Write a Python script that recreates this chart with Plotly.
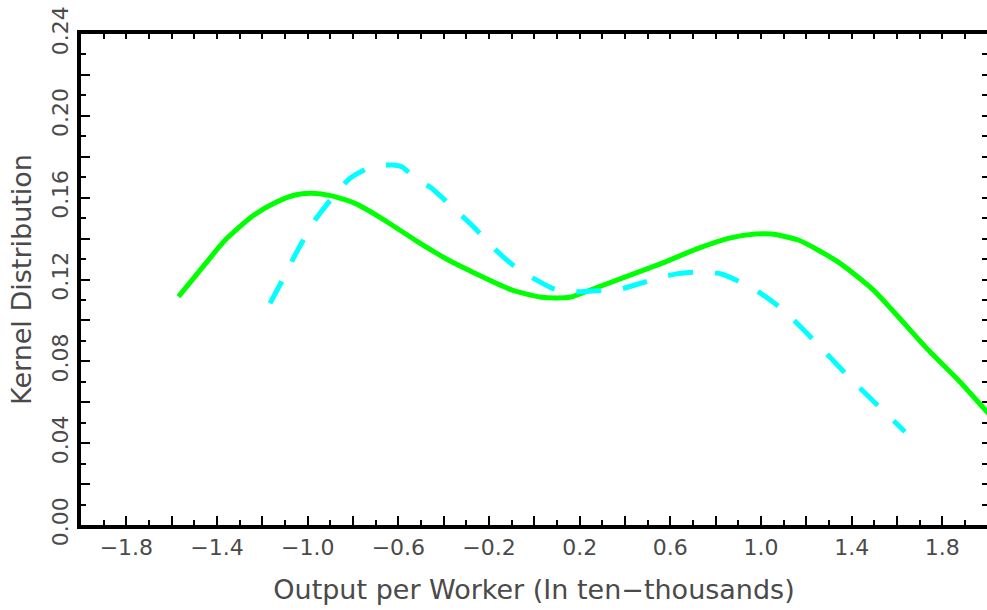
import plotly.graph_objects as go

# ---- data ----
green_x = [-1.570, -1.438, -1.364, -1.247, -1.144, -1.056, -0.982, -0.894, -0.791, -0.674,
           -0.526, -0.379, -0.291, -0.100, 0.032, 0.157, 0.238, 0.562, 0.723, 0.856,
           0.974, 1.047, 1.165, 1.341, 1.495, 1.738, 1.870, 1.990, 2.05]
green_y = [0.1116, 0.1295, 0.1393, 0.1507, 0.1575, 0.1613, 0.1621, 0.1609, 0.1572, 0.1499,
           0.1393, 0.1295, 0.1246, 0.1149, 0.1113, 0.1113, 0.1145, 0.1279, 0.1352, 0.1401,
           0.1422, 0.1422, 0.1393, 0.1285, 0.1149, 0.0855, 0.0709, 0.0562, 0.0490]

cyan_x = [-1.166, -1.115, -1.071, -1.019, -0.967, -0.887, -0.813, -0.718, -0.629, -0.585,
          -0.541, -0.453, -0.379, -0.269, -0.173, -0.085, 0.010, 0.091, 0.194, 0.275,
          0.378, 0.459, 0.554, 0.643, 0.738, 0.826, 0.914, 1.003, 1.098, 1.253, 1.400, 1.635]
cyan_y = [0.1084, 0.1189, 0.1287, 0.1393, 0.1491, 0.1605, 0.1695, 0.1751, 0.1760, 0.1751,
          0.1711, 0.1646, 0.1572, 0.1458, 0.1347, 0.1262, 0.1197, 0.1152, 0.1140, 0.1145,
          0.1153, 0.1178, 0.1211, 0.1230, 0.1238, 0.1227, 0.1184, 0.1129, 0.1051, 0.0880, 0.0709, 0.0456]

x_major = [round(-2.0 + 0.2 * i, 1) for i in range(21)]
x_labels = ["\u22121.8", "\u22121.4", "\u22121.0", "\u22120.6", "\u22120.2", "0.2", "0.6", "1.0", "1.4", "1.8"]
x_label_vals = [-1.8, -1.4, -1.0, -0.6, -0.2, 0.2, 0.6, 1.0, 1.4, 1.8]
y_major = [round(0.02 * i, 2) for i in range(13)]
y_labels = ["0.00", "0.04", "0.08", "0.12", "0.16", "0.20", "0.24"]
y_label_vals = [0.0, 0.04, 0.08, 0.12, 0.16, 0.20, 0.24]

def txt(vals, lvals, labels):
    out = []
    for v in vals:
        hit = [l for lv, l in zip(lvals, labels) if abs(lv - v) < 1e-9]
        out.append(hit[0] if hit else "")
    return out

FONT = "DejaVu Sans"
TICKCOL = "#4a4a4a"

fig = go.Figure()
fig.add_trace(go.Scatter(x=green_x, y=green_y, mode="lines",
                         line=dict(color="#00FF00", width=5, shape="spline", smoothing=0.6),
                         showlegend=False))
fig.add_trace(go.Scatter(x=cyan_x, y=cyan_y, mode="lines",
                         line=dict(color="#00FFFF", width=5, dash="25px,22px", shape="spline", smoothing=0.6),
                         showlegend=False))
# invisible trace to anchor mirrored axes
fig.add_trace(go.Scatter(x=[0], y=[0], xaxis="x2", yaxis="y2", mode="markers",
                         marker=dict(opacity=0), showlegend=False, hoverinfo="skip"))

XR = [-2.0, 1.997]
YR = [0.0, 0.24]

fig.update_layout(
    width=987, height=610,
    margin=dict(l=81, r=0, t=34, b=85),
    paper_bgcolor="white", plot_bgcolor="white",
    font=dict(family=FONT, color=TICKCOL),
    xaxis=dict(range=XR, showgrid=False, zeroline=False,
               showline=True, linewidth=4, linecolor="black",
               tickmode="array", tickvals=x_major, ticktext=txt(x_major, x_label_vals, x_labels),
               ticks="inside", ticklen=9, tickwidth=1.5, tickcolor="black",
               minor=dict(tickmode="linear", tick0=0, dtick=0.1, ticks="inside", ticklen=5,
                          tickwidth=1.5, tickcolor="black"),
               tickfont=dict(size=22, family=FONT, color=TICKCOL),
               title=dict(text="Output per Worker (In ten\u2212thousands)",
                          font=dict(size=27, family=FONT, color=TICKCOL), standoff=22)),
    yaxis=dict(range=YR, showgrid=False, zeroline=False,
               showline=True, linewidth=4, linecolor="black",
               tickmode="array", tickvals=y_major, ticktext=txt(y_major, y_label_vals, y_labels),
               ticks="inside", ticklen=9, tickwidth=1.5, tickcolor="black",
               minor=dict(tickmode="linear", tick0=0, dtick=0.01, ticks="inside", ticklen=5,
                          tickwidth=1.5, tickcolor="black"),
               tickangle=-90,
               tickfont=dict(size=22, family=FONT, color=TICKCOL),
               title=dict(text="Kernel Distribution",
                          font=dict(size=27, family=FONT, color=TICKCOL), standoff=10)),
    xaxis2=dict(overlaying="x", side="top", range=XR, matches="x", showgrid=False, zeroline=False,
                showline=True, linewidth=4, linecolor="black",
                tickmode="array", tickvals=x_major, ticktext=[""] * len(x_major),
                ticks="inside", ticklen=9, tickwidth=1.5, tickcolor="black",
                minor=dict(tickmode="linear", tick0=0, dtick=0.1, ticks="inside", ticklen=5,
                           tickwidth=1.5, tickcolor="black"),
                showticklabels=False),
    yaxis2=dict(overlaying="y", side="right", range=YR, matches="y", showgrid=False, zeroline=False,
                showline=False,
                tickmode="array", tickvals=y_major, ticktext=[""] * len(y_major),
                ticks="inside", ticklen=9, tickwidth=1.5, tickcolor="black",
                minor=dict(tickmode="linear", tick0=0, dtick=0.01, ticks="inside", ticklen=5,
                           tickwidth=1.5, tickcolor="black"),
                showticklabels=False),
)

fig.write_html("out.html")
